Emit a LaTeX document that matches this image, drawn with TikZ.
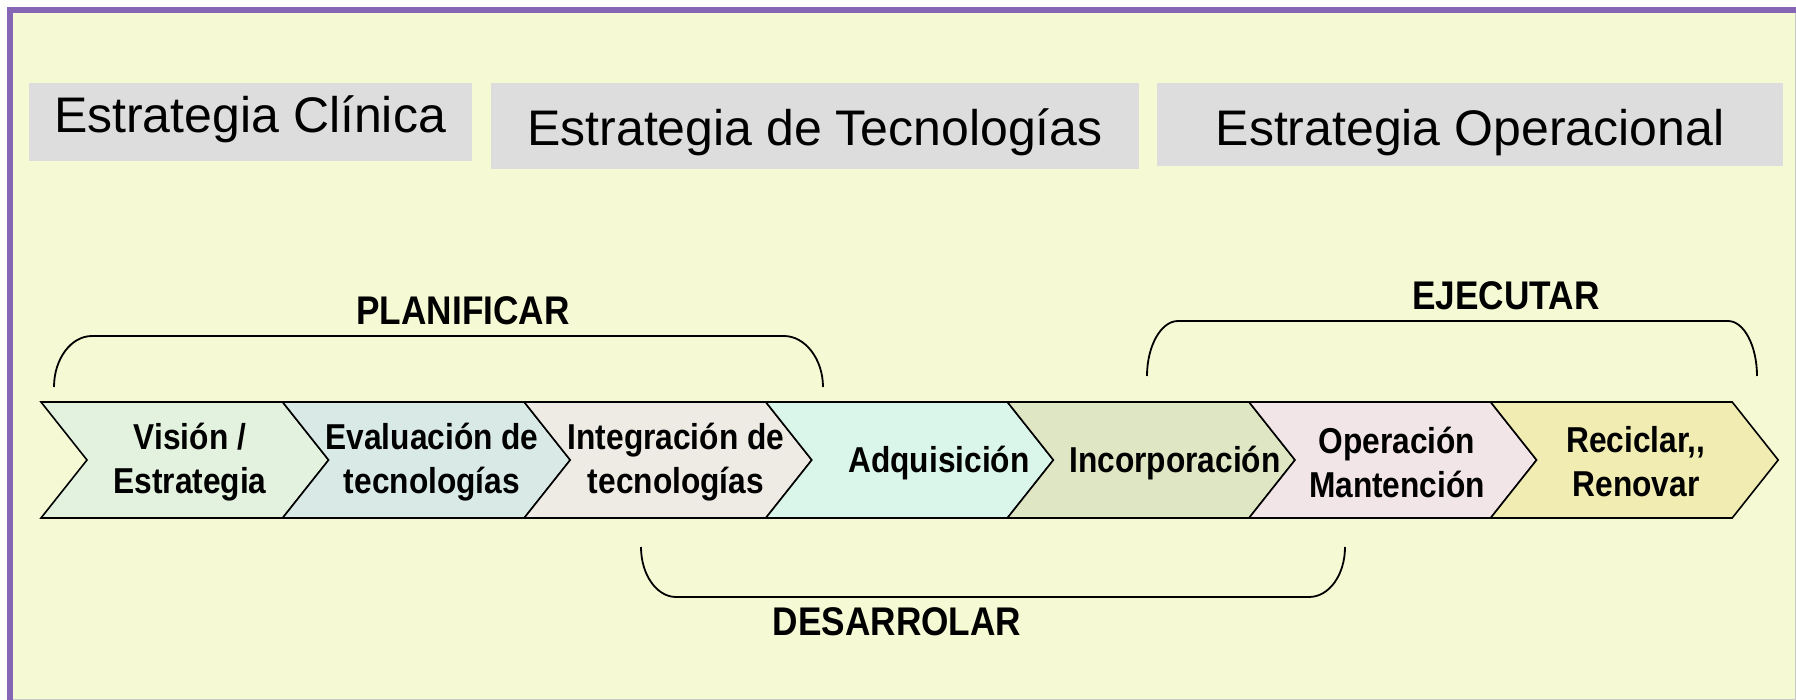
\documentclass[tikz,border=0pt]{standalone}
\usepackage{fontspec}
\setmainfont{Liberation Sans}
\newfontfamily\estrecha{Liberation Sans}[FakeStretch=0.88]
\usepackage{tikz}
\usetikzlibrary{calc}
\usepackage{xcolor}

\definecolor{marco}{RGB}{133,101,181}
\definecolor{fondo}{RGB}{245,250,212}
\definecolor{caja}{RGB}{221,221,221}
\definecolor{orilla}{RGB}{200,200,200}
\definecolor{fase1}{RGB}{227,242,222}
\definecolor{fase2}{RGB}{217,234,230}
\definecolor{fase3}{RGB}{238,235,228}
\definecolor{fase4}{RGB}{218,245,233}
\definecolor{fase5}{RGB}{223,230,195}
\definecolor{fase6}{RGB}{241,229,231}
\definecolor{fase7}{RGB}{241,236,177}

\tikzset{
  titulo/.style={anchor=base,font=\fontsize{25}{30}\selectfont},
  chevtexto/.style={align=center,font=\estrecha\bfseries\fontsize{18}{22}\selectfont},
  etapa/.style={anchor=base,font=\estrecha\bfseries\fontsize{20}{24}\selectfont},
  llave/.style={line width=0.9pt}
}

\begin{document}
\begin{tikzpicture}[x=0.5pt,y=-0.5pt]
    \useasboundingbox (0,0) rectangle (1796,700);
    \fill[white!96!fondo] (0,0) rectangle (1796,700);
    \fill[fondo] (10,10) rectangle (1796,700);
    \draw[orilla,line width=0.5pt] (1795.5,10) -- (1795.5,699.5) -- (10,699.5);
    \draw[marco,line width=3pt] (1796,10) -- (10,10) -- (10,700);

    \fill[caja] (29,83) rectangle (472,161);
    \fill[caja] (491,83) rectangle (1139,169);
    \fill[caja] (1157,83) rectangle (1783,166);
    \node[titulo] (clinica) at (250,133) {Estrategia Clínica};
    \node[titulo] (tecnologias) at (815,146) {Estrategia de Tecnologías};
    \node[titulo] (operacional) at (1470,146) {Estrategia Operacional};

    \foreach \i/\col/\tx/\ty/\txt in {0/fase1/190/462/{Visión /\\Estrategia},
        1/fase2/432/462/{Evaluación de\\tecnologías},
        2/fase3/676/462/{Integración de\\tecnologías},
        3/fase4/939/463/{Adquisición},
        4/fase5/1175/463/{Incorporación},
        5/fase6/1397/462/{Operación\\Mantención},
        6/fase7/1636/462/{Reciclar,{},\\Renovar}}{
        \draw[fill=\col,line width=0.8pt] ({41+241.6*\i},402) -- ++(241.6,0) -- ++(46,58)
            -- ++(-46,58) -- ++(-241.6,0) -- ++(46,-58) -- cycle;
        \node[chevtexto] (fase\i) at (\tx,\ty) {\txt};
    }

    \draw[llave] (54,387) .. controls (54,359) and (71,336) .. (92,336) -- (784,336)
        .. controls (805,336) and (823,359) .. (823,387);
    \node[etapa] (planificar) at (463,325) {PLANIFICAR};

    \draw[llave] (1147,376) .. controls (1147,346) and (1161,321) .. (1178,321) -- (1728,321)
        .. controls (1744,321) and (1757,346) .. (1757,376);
    \node[etapa] (ejecutar) at (1506,310) {EJECUTAR};

    \draw[llave] (641,547) .. controls (641,575) and (657,597) .. (676,597) -- (1309,597)
        .. controls (1329,597) and (1345,575) .. (1345,547);
    \node[etapa] (desarrolar) at (897,635) {DESARROLAR};
\end{tikzpicture}
\end{document}
